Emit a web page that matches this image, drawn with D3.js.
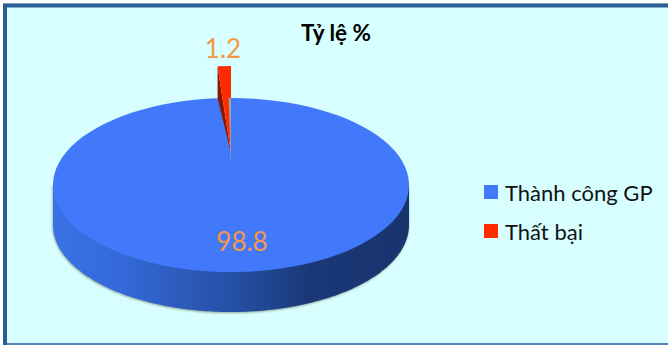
<!DOCTYPE html>
<html><head><meta charset="utf-8">
<script src="https://cdn.jsdelivr.net/npm/d3@7"></script>
<style>html,body{margin:0;padding:0;background:#fff}svg{display:block}text{font-family:Lato,"Open Sans",sans-serif}</style>
</head><body><svg id="c" width="668" height="345"></svg>
<script>
const titleText = "Tỷ lệ %";
const categories = ["Thành công GP", "Thất bại"];
const values = [98.8, 1.2];
const valueLabels = ["98.8", "1.2"];
const colors = ["#4279fb", "#ff2a00"];

const W = 668, H = 345;
const cx = 231, cy = 185, rx = 178, ry = 87, depth = 40, explode = 32;
const svg = d3.select("#c");
const defs = svg.append("defs");

// frame
svg.append("rect").attr("x",3).attr("y",3).attr("width",W).attr("height",H).attr("fill","#2a5f96");
svg.append("rect").attr("x",3).attr("y",3).attr("width",W).attr("height",1).attr("fill","#7f9fc0");
svg.append("rect").attr("x",7).attr("y",7.5).attr("width",W).attr("height",H-7.5-2).attr("fill","#d8ffff");
svg.append("rect").attr("x",7).attr("y",H-2).attr("width",W).attr("height",2).attr("fill","#4f86b5");

// gradients and filter
const wg = defs.append("linearGradient").attr("id","wall").attr("x1",0).attr("x2",1).attr("y1",0).attr("y2",0);
[[0,"#3b72e6"],[0.2,"#3468d8"],[0.4,"#2a58b4"],[0.55,"#234c9e"],[0.72,"#1a3876"],[1,"#17346f"]]
  .forEach(s=>wg.append("stop").attr("offset",s[0]).attr("stop-color",s[1]));
const gg = defs.append("linearGradient").attr("id","cut").attr("gradientUnits","userSpaceOnUse")
  .attr("x1",0).attr("x2",0).attr("y1",cy-ry).attr("y2",cy-15);
[[0,"#9aa7a3",1],[0.8,"#9aa7a3",0.95],[1,"#9aa7a3",0]]
  .forEach(s=>gg.append("stop").attr("offset",s[0]).attr("stop-color",s[1]).attr("stop-opacity",s[2]));
defs.append("filter").attr("id","soft").attr("x","-5%").attr("y","-5%").attr("width","110%").attr("height","110%")
  .append("feGaussianBlur").attr("stdDeviation",1.3);

// pie layout: the small slice ends at twelve o'clock
const pie = d3.pie().sort(null).value(d=>d).startAngle(0).endAngle(2*Math.PI);
const arcs = pie(values);
const blue = arcs[0], red = arcs[1];
const px = a => cx + rx*Math.sin(a);
const py = (a,dy=0) => cy - ry*Math.cos(a) + dy;
const line = d3.line().x(d=>d[0]).y(d=>d[1]);

// lower wall of the disc
const lowAngles = d3.range(Math.PI/2, 3*Math.PI/2+0.001, Math.PI/180);
const wallPts = [[px(Math.PI/2),py(Math.PI/2)]]
  .concat(lowAngles.map(a=>[px(a),py(a,depth)]))
  .concat([[px(3*Math.PI/2),py(3*Math.PI/2)]]);
svg.append("path").attr("d",line(wallPts)+"Z").attr("fill","#5b6a50").attr("opacity",0.6)
  .attr("filter","url(#soft)").attr("transform","translate(-0.5,1)");
svg.append("path").attr("d",line(wallPts)+"Z").attr("fill","url(#wall)");

// exploded small slice
const rg = svg.append("g").attr("transform",`translate(0,${-explode})`);
const rA = red.startAngle, rB = red.endAngle;
rg.append("path").attr("d",line([[px(rA),py(rA)],[cx,cy],[cx,cy+depth],[px(rA),py(rA,depth)]])+"Z").attr("fill","#8a1800");
const arc = d3.arc().innerRadius(0).outerRadius(rx);
const sy = ry/rx;
rg.append("path").datum(red).attr("d",arc).attr("fill",colors[1])
  .attr("transform",`translate(${cx},${cy}) scale(1,${sy})`);

// main slice; the notch closes above the disc centre
svg.append("path").datum(blue).attr("d",arc).attr("fill",colors[0])
  .attr("transform",`translate(${cx},${cy}) scale(1,${sy})`);
svg.append("path").attr("d",line([[px(rA),py(rA)],[cx,cy-explode],[cx+1,cy-explode],[cx+1,cy+1],[cx-1,cy+1]])+"Z").attr("fill",colors[0]);
svg.append("path").attr("d",line([[cx-2.4,cy-ry],[cx,cy-ry],[cx,cy-15]])+"Z").attr("fill","url(#cut)");

// value labels
svg.append("text").attr("x",242).attr("y",251).attr("text-anchor","middle").attr("font-size",26)
  .attr("fill","#f79646").text(valueLabels[0]);
svg.append("text").attr("x",223).attr("y",58).attr("text-anchor","middle").attr("font-size",26)
  .attr("fill","#f79646").text(valueLabels[1]);

// title
svg.append("text").attr("x",336).attr("y",41).attr("text-anchor","middle").attr("font-size",22.5)
  .attr("font-weight",700).attr("fill","#000").text(titleText);

// legend
const legendY = d3.scalePoint().domain(categories).range([192,231]);
const lg = svg.selectAll("g.lg").data(categories).join("g").attr("class","lg")
  .attr("transform",d=>`translate(484,${legendY(d)})`);
lg.append("rect").attr("y",-7).attr("width",14).attr("height",14).attr("fill",(d,i)=>colors[i]);
lg.append("text").attr("x",21).attr("y",9).attr("font-size",22).attr("fill","#111").text(d=>d);
</script></body></html>
